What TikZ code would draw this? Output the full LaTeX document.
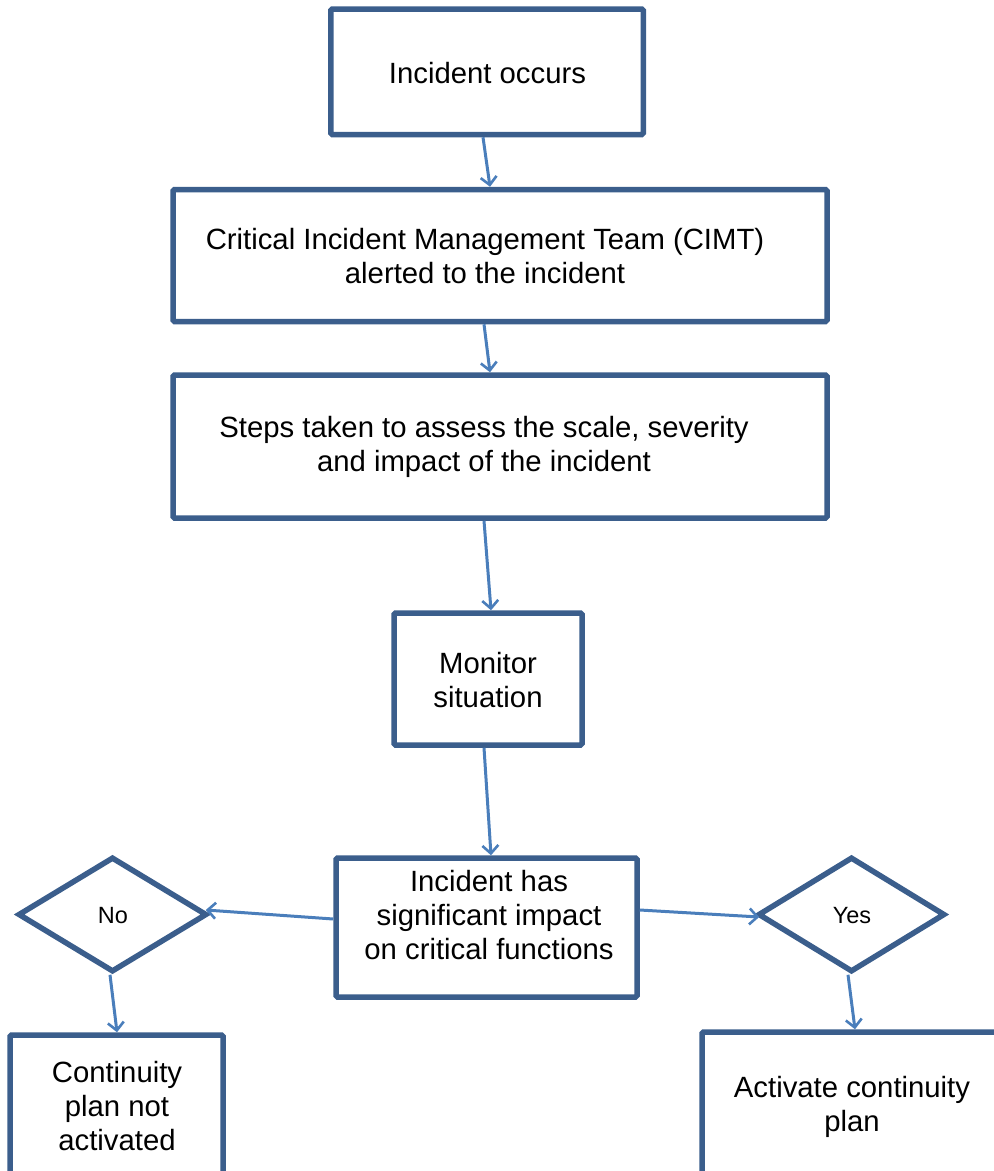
\documentclass[tikz,border=0pt]{standalone}
\usepackage{fontspec}
\setmainfont{Liberation Sans}
\usetikzlibrary{shapes.geometric,arrows.meta}
\definecolor{boxline}{HTML}{3B5E8C}
\definecolor{arrowline}{HTML}{4A7EBB}
\tikzset{
  box/.style={draw=boxline, line width=5.5pt, rounded corners=1.5pt, rectangle, inner sep=0pt, fill=white},
  dia/.style={draw=boxline, line width=5.5pt, diamond, inner sep=0pt, fill=white},
  txt/.style={font=\fontsize{29.3}{34}\selectfont, align=center, inner sep=0pt, text=black},
  smalltxt/.style={font=\fontsize{23.5}{27}\selectfont, inner sep=0pt, text=black},
  flow/.style={draw=arrowline, line width=3pt, -{Straight Barb[length=8pt,width=16pt,line width=2.6pt]}},
}
\begin{document}
\begin{tikzpicture}[x=1pt,y=-1pt]
\useasboundingbox (0,0) rectangle (994,1171);
\clip (0,0) rectangle (994,1171);
% boxes
\node[box, minimum width=312.5pt, minimum height=125.5pt] (b1) at (487,71.75) {};
\node[box, minimum width=654pt, minimum height=132pt] (b2) at (500,255.5) {};
\node[box, minimum width=654pt, minimum height=143pt] (b3) at (500,446.5) {};
\node[box, minimum width=188pt, minimum height=132pt] (b4) at (488,679) {};
\node[box, minimum width=301pt, minimum height=139pt] (b5) at (486.5,927.5) {};
\node[dia, minimum width=189pt, minimum height=115pt] (dno) at (112.5,914.5) {};
\node[dia, minimum width=187pt, minimum height=115pt] (dyes) at (851.5,914.5) {};
\node[box, minimum width=213pt, minimum height=142pt] (b6) at (116.5,1106) {};
\node[box, minimum width=300pt, minimum height=146pt] (b7) at (852,1105) {};
% texts
\node[txt] (t1) at (487.5,73) {Incident occurs};
\node[txt] (t2) at (485,256) {Critical Incident Management Team (CIMT)\\alerted to the incident};
\node[txt] (t3) at (484,447) {Steps taken to assess the scale, severity\\and impact of the incident};
\node[txt] (t4) at (488,680) {Monitor\\situation};
\node[txt] (t5) at (489,915) {Incident has\\significant impact\\on critical functions};
\node[smalltxt] (tno) at (113,916) {No};
\node[smalltxt] (tyes) at (852,916) {Yes};
\node[txt] (t6) at (117,1106) {Continuity\\plan not\\activated};
\node[txt] (t7) at (852,1107) {Activate continuity\\plan};
% connectors
\draw[flow] ([xshift=-4pt]b1.south) -- ([xshift=-10pt]b2.north);
\draw[flow] ([xshift=-16pt]b2.south) -- ([xshift=-10pt]b3.north);
\draw[flow] ([xshift=-16pt]b3.south) -- ([xshift=3pt]b4.north);
\draw[flow] ([xshift=-4pt]b4.south) -- ([xshift=4.5pt]b5.north);
\draw[flow] ([yshift=8.5pt]b5.west) -- ([xshift=-4pt,yshift=4.5pt]dno.east);
\draw[flow] ([yshift=17.5pt]b5.east) -- ([xshift=4pt,yshift=-2.5pt]dyes.west);
\draw[flow] ([xshift=-2.5pt]dno.south) -- ([xshift=0.5pt]b6.north);
\draw[flow] ([xshift=-3.5pt]dyes.south) -- ([xshift=3pt]b7.north);
\end{tikzpicture}
\end{document}
